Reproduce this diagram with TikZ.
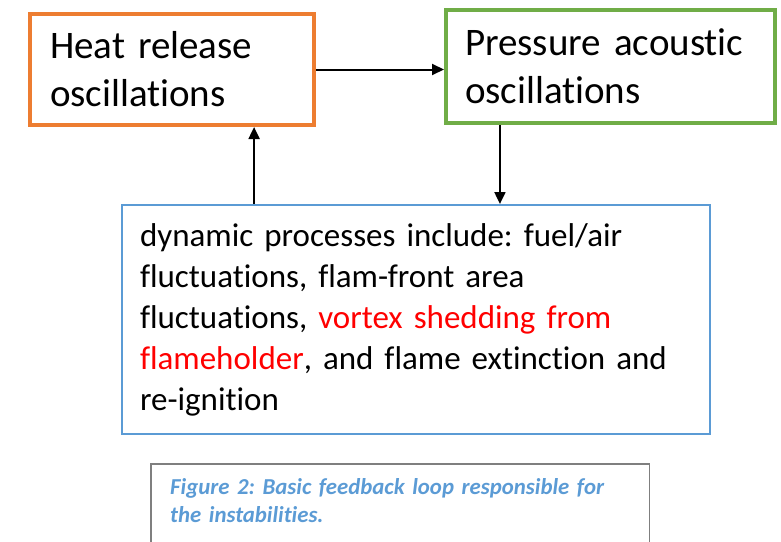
\documentclass[tikz,border=0pt]{standalone}
\usepackage{fontspec}
\setmainfont{Carlito}[Ligatures=NoCommon]
\usepackage{xcolor}
\usetikzlibrary{arrows.meta,positioning,calc}

\definecolor{heatorange}{HTML}{ED7D31}
\definecolor{pressgreen}{HTML}{70AD47}
\definecolor{dynblue}{HTML}{5B9BD5}
\definecolor{capgray}{HTML}{7F7F7F}

\tikzset{
  loopbox/.style={draw,line width=4pt,align=left,inner xsep=20pt,inner ysep=0pt,
    font=\fontsize{39}{48}\selectfont},
  flow/.style={line width=2pt,-{Triangle[length=12pt,width=11pt]}},
}
\frenchspacing

\begin{document}
\begin{tikzpicture}[x=1pt,y=-1pt]
  \useasboundingbox (0,0) rectangle (781,541);
  \node [loopbox,heatorange,text=black,text width=244pt,minimum height=111pt] (heat) at (172,69.5)
        {Heat release\\oscillations};
  \node [loopbox,pressgreen,text=black,text width=291pt,minimum height=113pt,inner xsep=19pt] (press) at (610.5,66.5)
        {Pressure acoustic\\oscillations};
  \node [draw=dynblue,line width=2pt,align=left,inner xsep=18pt,text width=552pt,minimum height=229pt,
         font=\fontsize{33}{41}\selectfont] (dyn) at (416,319.5)
        {dynamic processes include: fuel/air\\fluctuations, flam-front area\\fluctuations, \textcolor{red}{vortex shedding from}\\\textcolor{red}{flameholder}, and flame extinction and\\re-ignition};
  % caption, its box runs off the page
  \node [anchor=north west,align=left,inner xsep=19pt,inner ysep=14pt,text width=460pt,text=dynblue,
         font=\fontsize{22.8}{28}\selectfont\bfseries\itshape] (cap) at (151,464)
        {Figure 2: Basic feedback loop responsible for\\the instabilities.};
  \draw [capgray,line width=1.5pt] ($(cap.north west)+(0,90)$) -- (cap.north west) -- (cap.north east) -- ++(0,90);

  \coordinate (up) at ($(heat.south)!0.57!(heat.south east)$);
  \coordinate (down) at ($(press.south)!0.664!(press.south west)$);
  \draw [flow] (heat.east) -- (heat.east -| press.west);
  \draw [flow] (dyn.north -| up) -- (up);
  \draw [flow] (down) -- (dyn.north -| down);
\end{tikzpicture}
\end{document}
